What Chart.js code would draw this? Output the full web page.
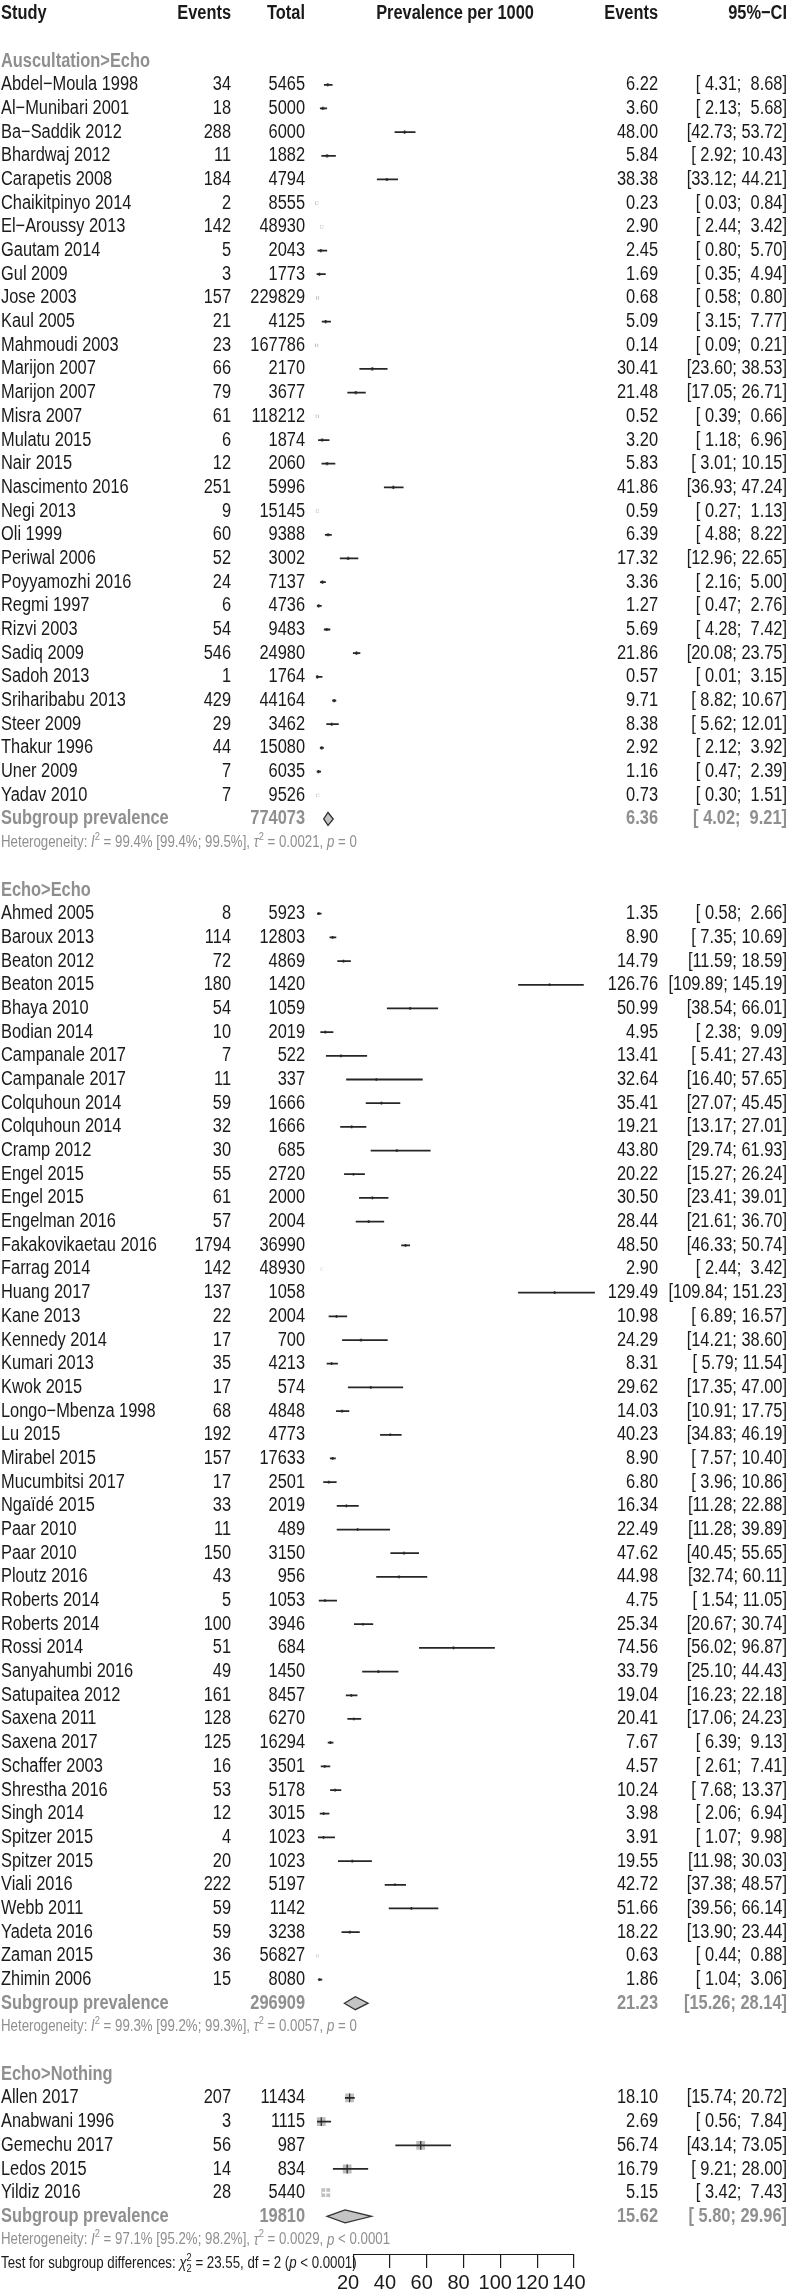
<!DOCTYPE html>
<html>
<head>
<meta charset="utf-8">
<script src="https://cdn.jsdelivr.net/npm/chart.js@4.4.1/dist/chart.umd.min.js"></script>
<style>
  html, body { margin: 0; padding: 0; background: #fff; }
  canvas { display: block; }
</style>
</head>
<body>
<canvas id="forest" width="788" height="2293" style="width:788px;height:2293px"></canvas>
<script>
// ---- data ----
var groupNames = ['Auscultation>Echo', 'Echo>Echo', 'Echo>Nothing'];

var ausStudies = ['Abdel\u2212Moula 1998', 'Al\u2212Munibari 2001', 'Ba\u2212Saddik 2012', 'Bhardwaj 2012', 'Carapetis 2008',
  'Chaikitpinyo 2014', 'El\u2212Aroussy 2013', 'Gautam 2014', 'Gul 2009', 'Jose 2003', 'Kaul 2005', 'Mahmoudi 2003',
  'Marijon 2007', 'Marijon 2007', 'Misra 2007', 'Mulatu 2015', 'Nair 2015', 'Nascimento 2016', 'Negi 2013', 'Oli 1999',
  'Periwal 2006', 'Poyyamozhi 2016', 'Regmi 1997', 'Rizvi 2003', 'Sadiq 2009', 'Sadoh 2013', 'Sriharibabu 2013',
  'Steer 2009', 'Thakur 1996', 'Uner 2009', 'Yadav 2010'];
var ausEvents = [34, 18, 288, 11, 184, 2, 142, 5, 3, 157, 21, 23, 66, 79, 61, 6, 12, 251, 9, 60, 52, 24, 6, 54, 546, 1, 429, 29, 44, 7, 7];
var ausTotal = [5465, 5000, 6000, 1882, 4794, 8555, 48930, 2043, 1773, 229829, 4125, 167786, 2170, 3677, 118212, 1874, 2060,
  5996, 15145, 9388, 3002, 7137, 4736, 9483, 24980, 1764, 44164, 3462, 15080, 6035, 9526];
var ausEst = [6.22, 3.60, 48.00, 5.84, 38.38, 0.23, 2.90, 2.45, 1.69, 0.68, 5.09, 0.14, 30.41, 21.48, 0.52, 3.20, 5.83, 41.86,
  0.59, 6.39, 17.32, 3.36, 1.27, 5.69, 21.86, 0.57, 9.71, 8.38, 2.92, 1.16, 0.73];
var ausLo = [4.31, 2.13, 42.73, 2.92, 33.12, 0.03, 2.44, 0.80, 0.35, 0.58, 3.15, 0.09, 23.60, 17.05, 0.39, 1.18, 3.01, 36.93,
  0.27, 4.88, 12.96, 2.16, 0.47, 4.28, 20.08, 0.01, 8.82, 5.62, 2.12, 0.47, 0.30];
var ausHi = [8.68, 5.68, 53.72, 10.43, 44.21, 0.84, 3.42, 5.70, 4.94, 0.80, 7.77, 0.21, 38.53, 26.71, 0.66, 6.96, 10.15, 47.24,
  1.13, 8.22, 22.65, 5.00, 2.76, 7.42, 23.75, 3.15, 10.67, 12.01, 3.92, 2.39, 1.51];

var echoStudies = ['Ahmed 2005', 'Baroux 2013', 'Beaton 2012', 'Beaton 2015', 'Bhaya 2010', 'Bodian 2014', 'Campanale 2017',
  'Campanale 2017', 'Colquhoun 2014', 'Colquhoun 2014', 'Cramp 2012', 'Engel 2015', 'Engel 2015', 'Engelman 2016',
  'Fakakovikaetau 2016', 'Farrag 2014', 'Huang 2017', 'Kane 2013', 'Kennedy 2014', 'Kumari 2013', 'Kwok 2015',
  'Longo\u2212Mbenza 1998', 'Lu 2015', 'Mirabel 2015', 'Mucumbitsi 2017', 'Nga\u00efd\u00e9 2015', 'Paar 2010', 'Paar 2010',
  'Ploutz 2016', 'Roberts 2014', 'Roberts 2014', 'Rossi 2014', 'Sanyahumbi 2016', 'Satupaitea 2012', 'Saxena 2011',
  'Saxena 2017', 'Schaffer 2003', 'Shrestha 2016', 'Singh 2014', 'Spitzer 2015', 'Spitzer 2015', 'Viali 2016', 'Webb 2011',
  'Yadeta 2016', 'Zaman 2015', 'Zhimin 2006'];
var echoEvents = [8, 114, 72, 180, 54, 10, 7, 11, 59, 32, 30, 55, 61, 57, 1794, 142, 137, 22, 17, 35, 17, 68, 192, 157, 17, 33,
  11, 150, 43, 5, 100, 51, 49, 161, 128, 125, 16, 53, 12, 4, 20, 222, 59, 59, 36, 15];
var echoTotal = [5923, 12803, 4869, 1420, 1059, 2019, 522, 337, 1666, 1666, 685, 2720, 2000, 2004, 36990, 48930, 1058, 2004,
  700, 4213, 574, 4848, 4773, 17633, 2501, 2019, 489, 3150, 956, 1053, 3946, 684, 1450, 8457, 6270, 16294, 3501, 5178, 3015,
  1023, 1023, 5197, 1142, 3238, 56827, 8080];
var echoEst = [1.35, 8.90, 14.79, 126.76, 50.99, 4.95, 13.41, 32.64, 35.41, 19.21, 43.80, 20.22, 30.50, 28.44, 48.50, 2.90,
  129.49, 10.98, 24.29, 8.31, 29.62, 14.03, 40.23, 8.90, 6.80, 16.34, 22.49, 47.62, 44.98, 4.75, 25.34, 74.56, 33.79, 19.04,
  20.41, 7.67, 4.57, 10.24, 3.98, 3.91, 19.55, 42.72, 51.66, 18.22, 0.63, 1.86];
var echoLo = [0.58, 7.35, 11.59, 109.89, 38.54, 2.38, 5.41, 16.40, 27.07, 13.17, 29.74, 15.27, 23.41, 21.61, 46.33, 2.44,
  109.84, 6.89, 14.21, 5.79, 17.35, 10.91, 34.83, 7.57, 3.96, 11.28, 11.28, 40.45, 32.74, 1.54, 20.67, 56.02, 25.10, 16.23,
  17.06, 6.39, 2.61, 7.68, 2.06, 1.07, 11.98, 37.38, 39.56, 13.90, 0.44, 1.04];
var echoHi = [2.66, 10.69, 18.59, 145.19, 66.01, 9.09, 27.43, 57.65, 45.45, 27.01, 61.93, 26.24, 39.01, 36.70, 50.74, 3.42,
  151.23, 16.57, 38.60, 11.54, 47.00, 17.75, 46.19, 10.40, 10.86, 22.88, 39.89, 55.65, 60.11, 11.05, 30.74, 96.87, 44.43,
  22.18, 24.23, 9.13, 7.41, 13.37, 6.94, 9.98, 30.03, 48.57, 66.14, 23.44, 0.88, 3.06];

var nothingStudies = ['Allen 2017', 'Anabwani 1996', 'Gemechu 2017', 'Ledos 2015', 'Yildiz 2016'];
var nothingEvents = [207, 3, 56, 14, 28];
var nothingTotal = [11434, 1115, 987, 834, 5440];
var nothingEst = [18.10, 2.69, 56.74, 16.79, 5.15];
var nothingLo = [15.74, 0.56, 43.14, 9.21, 3.42];
var nothingHi = [20.72, 7.84, 73.05, 28.00, 7.43];

var subTotal = [774073, 296909, 19810];
var subEst = [6.36, 21.23, 15.62];
var subLo = [4.02, 15.26, 5.80];
var subHi = [9.21, 28.14, 29.96];

var hetI2 = ['99.4% [99.4%; 99.5%]', '99.3% [99.2%; 99.3%]', '97.1% [95.2%; 98.2%]'];
var hetTau2 = ['0.0021', '0.0057', '0.0029'];
var hetP = ['= 0', '= 0', '< 0.0001'];
var testChi2 = '23.55', testDf = '2', testP = '< 0.0001';

var tickValues = [20, 40, 60, 80, 100, 120, 140];

// ---- layout / style ----
var W = 788, H = 2293;
var ROW0 = 7.5, ROWH = 23.75, AREA_BOTTOM = 2254;
var X0PX = 316.3, XSLOPE = 1.84, XMIN = -4, XMAX = 156;
var COL = { left: 1, events: 231, total: 305, prev: 455, value: 658, ci: 787 };
var SQUARE = [3.2, 2.7, 8.8];
var DARK = '#1a1a1a', LINE = '#262626', GREY = '#8f8f8f', SQ_FILL = '#bebebe';
var MAIN = 20, SMALL = 16.2;

// narrow font: use Liberation Sans Narrow if installed, otherwise squeeze Liberation Sans
var probe = document.createElement('canvas').getContext('2d');
probe.font = '20px "Liberation Sans Narrow", monospace';
var wa = probe.measureText('Abcdefghij').width;
probe.font = '20px monospace';
var wb = probe.measureText('Abcdefghij').width;
var HAS_NARROW = Math.abs(wa - wb) > 0.5;
var FAM = HAS_NARROW ? '"Liberation Sans Narrow"' : '"Liberation Sans", Arial, sans-serif';
var SX = HAS_NARROW ? 1 : 0.82;

var groups = [
  { studies: ausStudies, events: ausEvents, total: ausTotal, est: ausEst, lo: ausLo, hi: ausHi },
  { studies: echoStudies, events: echoEvents, total: echoTotal, est: echoEst, lo: echoLo, hi: echoHi },
  { studies: nothingStudies, events: nothingEvents, total: nothingTotal, est: nothingEst, lo: nothingLo, hi: nothingHi }
];

// rows: 0 header, then per group: title, studies, subgroup, heterogeneity, two blank
var textRows = [], points = [], ciBars = [], subRows = [];
var r = 2;
groups.forEach(function(gr, g) {
  textRows.push({ kind: 'group', r: r, g: g });
  gr.studies.forEach(function(s, i) {
    var row = r + 1 + i;
    textRows.push({ kind: 'study', r: row, g: g, i: i });
    points.push({ x: gr.est[i], y: row, lo: gr.lo[i], hi: gr.hi[i], g: g });
    ciBars.push({ x: [gr.lo[i], gr.hi[i]], y: row, est: gr.est[i], g: g });
  });
  var n = gr.studies.length;
  subRows.push(r + 1 + n);
  textRows.push({ kind: 'sub', r: r + 1 + n, g: g });
  textRows.push({ kind: 'het', r: r + 2 + n, g: g });
  r += n + 4;
});
var testRow = r - 1;

var yMin = -ROW0 / ROWH;
var yMax = yMin + AREA_BOTTOM / ROWH;

function fmt(v) { return v.toFixed(2); }
function pad(s, n) { while (s.length < n) s = ' ' + s; return s; }
function ciText(lo, hi) { return '[' + pad(fmt(lo), 5) + '; ' + pad(fmt(hi), 5) + ']'; }

// CI lines that fall inside the square are drawn white, as in meta::forest
function inside(c) {
  var d = c.raw;
  if (!d) return false;
  var xs = c.chart.scales.x;
  var est = Array.isArray(d.x) ? d.est : d.x;
  var lo = Array.isArray(d.x) ? d.x[0] : d.lo;
  var hi = Array.isArray(d.x) ? d.x[1] : d.hi;
  var pe = xs.getPixelForValue(est), half = SQUARE[d.g] / 2;
  return xs.getPixelForValue(lo) >= pe - half && xs.getPixelForValue(hi) <= pe + half;
}
function side(c) { return c.raw ? SQUARE[c.raw.g] : 3; }

function put(ctx, s, x, y, align, bold, color, size) {
  ctx.save();
  ctx.font = (bold ? 'bold ' : '') + size + 'px ' + FAM;
  ctx.fillStyle = color;
  ctx.textAlign = align;
  ctx.textBaseline = 'middle';
  ctx.translate(x, y);
  ctx.scale(SX, 1);
  ctx.fillText(s, 0, 0);
  ctx.restore();
}

function rich(ctx, parts, x, y, size, color) {
  var cx = x;
  parts.forEach(function(p) {
    var fs = (p.sup || p.sub) ? size * 0.7 : size;
    ctx.save();
    ctx.font = (p.it ? 'italic ' : '') + fs + 'px ' + FAM;
    ctx.fillStyle = color;
    ctx.textAlign = 'left';
    ctx.textBaseline = 'middle';
    var w = ctx.measureText(p.t).width * SX;
    var dy = p.sup ? -size * 0.38 : (p.sub ? size * 0.32 : 0);
    ctx.translate(cx, y + dy);
    ctx.scale(SX, 1);
    ctx.fillText(p.t, 0, 0);
    ctx.restore();
    if (!p.stack) cx += w;
  });
}

var forestText = {
  id: 'forestText',
  beforeDraw: function(chart) {
    var ctx = chart.ctx;
    ctx.save();
    ctx.fillStyle = '#fff';
    ctx.fillRect(0, 0, chart.width, chart.height);
    ctx.restore();
  },
  afterDatasetsDraw: function(chart) {
    var ctx = chart.ctx, xs = chart.scales.x, ys = chart.scales.y;
    // subgroup diamonds
    subRows.forEach(function(row, g) {
      var cy = ys.getPixelForValue(row);
      var xl = xs.getPixelForValue(subLo[g]), xr = xs.getPixelForValue(subHi[g]), xc = xs.getPixelForValue(subEst[g]);
      ctx.save();
      ctx.beginPath();
      ctx.moveTo(xl, cy);
      ctx.lineTo(xc, cy - 6.5);
      ctx.lineTo(xr, cy);
      ctx.lineTo(xc, cy + 6.5);
      ctx.closePath();
      ctx.fillStyle = '#c4c4c4';
      ctx.fill();
      ctx.lineWidth = 1.3;
      ctx.strokeStyle = '#333';
      ctx.stroke();
      ctx.restore();
    });
    // axis line between first and last tick
    var ya = chart.chartArea.bottom + 0.5;
    ctx.save();
    ctx.beginPath();
    ctx.moveTo(xs.getPixelForValue(tickValues[0]), ya);
    ctx.lineTo(xs.getPixelForValue(tickValues[tickValues.length - 1]), ya);
    ctx.lineWidth = 1.2;
    ctx.strokeStyle = DARK;
    ctx.stroke();
    ctx.restore();
  },
  afterDraw: function(chart) {
    var ctx = chart.ctx, ys = chart.scales.y;
    function Y(row) { return ys.getPixelForValue(row); }
    var y0 = Y(0);
    put(ctx, 'Study', COL.left, y0, 'left', true, DARK, MAIN);
    put(ctx, 'Events', COL.events, y0, 'right', true, DARK, MAIN);
    put(ctx, 'Total', COL.total, y0, 'right', true, DARK, MAIN);
    put(ctx, 'Prevalence per 1000', COL.prev, y0, 'center', true, DARK, MAIN);
    put(ctx, 'Events', COL.value, y0, 'right', true, DARK, MAIN);
    put(ctx, '95%\u2212CI', COL.ci, y0, 'right', true, DARK, MAIN);

    textRows.forEach(function(t) {
      var y = Y(t.r), gr = groups[t.g];
      if (t.kind === 'group') {
        put(ctx, groupNames[t.g], COL.left, y, 'left', true, GREY, MAIN);
      } else if (t.kind === 'study') {
        var i = t.i;
        put(ctx, gr.studies[i], COL.left, y, 'left', false, DARK, MAIN);
        put(ctx, String(gr.events[i]), COL.events, y, 'right', false, DARK, MAIN);
        put(ctx, String(gr.total[i]), COL.total, y, 'right', false, DARK, MAIN);
        put(ctx, fmt(gr.est[i]), COL.value, y, 'right', false, DARK, MAIN);
        put(ctx, ciText(gr.lo[i], gr.hi[i]), COL.ci, y, 'right', false, DARK, MAIN);
      } else if (t.kind === 'sub') {
        put(ctx, 'Subgroup prevalence', COL.left, y, 'left', true, GREY, MAIN);
        put(ctx, String(subTotal[t.g]), COL.total, y, 'right', true, GREY, MAIN);
        put(ctx, fmt(subEst[t.g]), COL.value, y, 'right', true, GREY, MAIN);
        put(ctx, ciText(subLo[t.g], subHi[t.g]), COL.ci, y, 'right', true, GREY, MAIN);
      } else if (t.kind === 'het') {
        rich(ctx, [
          { t: 'Heterogeneity: ' }, { t: 'I', it: true }, { t: '2', sup: true },
          { t: ' = ' + hetI2[t.g] + ', ' }, { t: '\u03c4', it: true }, { t: '2', sup: true },
          { t: ' = ' + hetTau2[t.g] + ', ' }, { t: 'p', it: true }, { t: ' ' + hetP[t.g] }
        ], COL.left, y, SMALL, GREY);
      }
    });

    rich(ctx, [
      { t: 'Test for subgroup differences: ' }, { t: '\u03c7', it: true }, { t: '2', sup: true, stack: true },
      { t: '2', sub: true }, { t: ' = ' + testChi2 + ', df = ' + testDf + ' (' }, { t: 'p', it: true },
      { t: ' ' + testP + ')' }
    ], COL.left, Y(testRow), SMALL, DARK);
  }
};

var chart = new Chart(document.getElementById('forest'), {
  type: 'scatter',
  data: {
    datasets: [
      {
        // estimate tick
        type: 'scatter',
        data: points,
        pointStyle: 'line',
        rotation: 90,
        pointRadius: function(c) { return side(c) / 2; },
        borderWidth: 1.2,
        borderColor: function(c) { return inside(c) ? '#ffffff' : LINE; },
        order: 0
      },
      {
        // confidence interval
        type: 'bar',
        indexAxis: 'y',
        data: ciBars,
        barThickness: 1.1,
        backgroundColor: function(c) { return inside(c) ? '#ffffff' : LINE; },
        borderWidth: 0,
        order: 1
      },
      {
        // weight square
        type: 'scatter',
        data: points,
        pointStyle: 'rect',
        pointRadius: function(c) { return side(c) * Math.SQRT1_2; },
        backgroundColor: SQ_FILL,
        borderWidth: 0,
        order: 2
      }
    ]
  },
  options: {
    responsive: false,
    animation: false,
    devicePixelRatio: 1,
    events: [],
    layout: {
      padding: { left: X0PX + XMIN * XSLOPE, right: W - (X0PX + XMAX * XSLOPE), top: 0, bottom: 0 }
    },
    plugins: {
      legend: { display: false },
      tooltip: { enabled: false }
    },
    scales: {
      x: {
        type: 'linear',
        position: 'bottom',
        min: XMIN,
        max: XMAX,
        offset: false,
        afterBuildTicks: function(s) { s.ticks = tickValues.map(function(v) { return { value: v }; }); },
        afterFit: function(s) { s.height = H - AREA_BOTTOM; },
        border: { display: false },
        grid: { drawOnChartArea: false, drawTicks: true, tickLength: 14, color: DARK, lineWidth: 1.2 },
        ticks: { color: DARK, padding: 3, labelOffset: -5, maxRotation: 0, autoSkip: false, font: { family: FAM, size: MAIN } }
      },
      y: {
        type: 'linear',
        min: yMin,
        max: yMax,
        offset: false,
        reverse: true,
        display: false
      }
    }
  },
  plugins: [forestText]
});
</script>
</body>
</html>
